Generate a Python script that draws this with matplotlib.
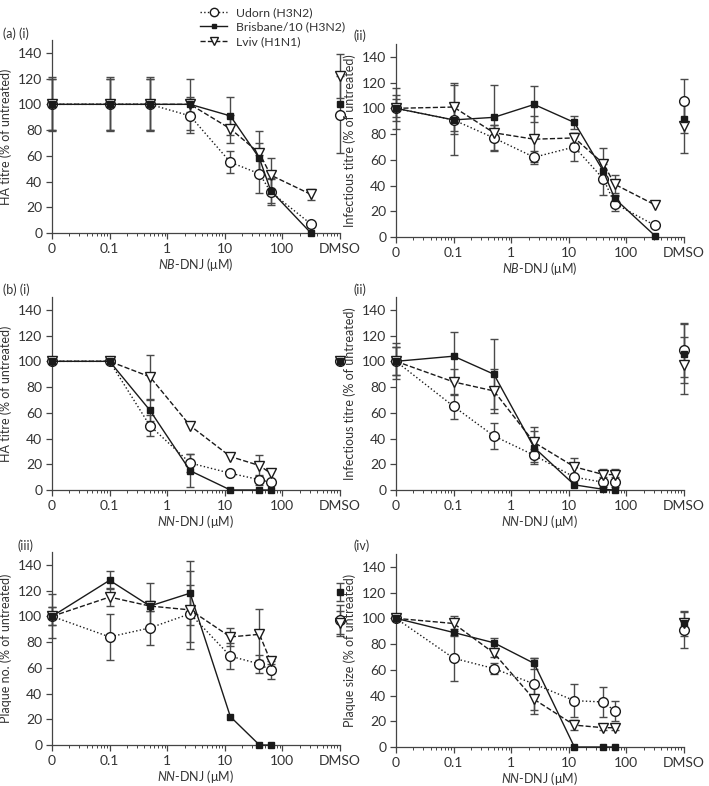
import numpy as np
import matplotlib
matplotlib.use("Agg")
import matplotlib.pyplot as plt
from matplotlib.ticker import FixedLocator, LogLocator, NullFormatter
from matplotlib.lines import Line2D

plt.rcParams['font.family'] = ['Lato', 'DejaVu Sans']
plt.rcParams['mathtext.fontset'] = 'custom'
plt.rcParams['mathtext.it'] = 'Lato:italic'
plt.rcParams['mathtext.rm'] = 'Lato'

TXT = '#333333'
LINE = '#1a1a1a'
ERR = '#4a4a4a'
FS = 10
FSL = 9.0
FSLEG = 8.8

# ---------------- data ----------------
conc_nb = [0, 0.1, 0.5, 2.5, 12.5, 40, 62.5, 312.5]
conc_nn = [0, 0.1, 0.5, 2.5, 12.5, 40, 62.5]
xtick_labels = ['0', '0.1', '1', '10', '100', 'DMSO']
strains = ['Udorn (H3N2)', 'Brisbane/10 (H3N2)', 'Lviv (H1N1)']

# (a)(i) HA titre, NB-DNJ  (last value = DMSO)
a1_udorn = [100, 100, 100, 91, 55, 46, 32, 7, 92]
a1_udorn_err = [20, 20, 20, 13, 8.5, 15, 10, 0, 30]
a1_bris = [100, 100, 100, 100, 91, 58, 33, 0, 100]
a1_bris_err = [20, 21, 21, 20, 15, 12, 10, 0, 0]
a1_lviv = [100, 100, 100, 100, 81, 62, 45, 30, 122]
a1_lviv_err = [21, 20, 20, 6, 11, 17, 13, 4, 17]

# (a)(ii) Infectious titre, NB-DNJ
a2_udorn = [100, 91, 77, 62, 70, 45, 26, 9, 106]
a2_udorn_err = [10, 11, 10, 5, 11, 12, 6, 0, 17]
a2_bris = [100, 91, 93, 103, 89, 51, 30, 1, 92]
a2_bris_err = [16, 27, 25, 14, 5, 8, 3, 0, 11]
a2_lviv = [100, 101, 81, 76, 77, 57, 41, 25, 86]
a2_lviv_err = [7, 19, 6, 18, 4, 12, 7, 0, 21]

# (b)(i) HA titre, NN-DNJ
b1_udorn = [100, 100, 50, 21, 13, 8, 6, 100]
b1_udorn_err = [0, 0, 8, 7, 0, 4, 0, 0]
b1_bris = [100, 100, 62, 15, 0, 0, 0, 100]
b1_bris_err = [0, 0, 8, 13, 0, 0, 0, 0]
b1_lviv = [100, 100, 88, 50, 26, 19, 13, 100]
b1_lviv_err = [0, 0, 17, 0, 0, 8, 0, 0]

# (b)(ii) Infectious titre, NN-DNJ
b2_udorn = [100, 65, 42, 27, 10, 6, 6, 109]
b2_udorn_err = [14, 10, 10, 5, 2, 4, 4, 21]
b2_bris = [100, 104, 90, 33, 4, 0.5, 0, 106]
b2_bris_err = [11, 19, 27, 13, 0, 0, 0, 23]
b2_lviv = [100, 84, 77, 37, 18, 12, 12, 97]
b2_lviv_err = [11, 10, 17, 12, 7, 4, 4, 22]

# (b)(iii) Plaque no., NN-DNJ
b3_udorn = [100, 84, 91, 102, 69, 63, 58, 97]
b3_udorn_err = [17, 18, 13, 22, 10, 7, 7, 12]
b3_bris = [100, 128, 108, 118, 22, 0, 0, 119]
b3_bris_err = [7, 7, 4, 25, 0, 0, 0, 7]
b3_lviv = [100, 115, 108, 105, 84, 86, 65, 95]
b3_lviv_err = [7, 7, 18, 30, 7, 20, 2, 9]

# (b)(iv) Plaque size, NN-DNJ
b4_udorn = [100, 69, 61, 49, 36, 35, 28, 91]
b4_udorn_err = [0, 18, 4, 20, 13, 12, 7.5, 14]
b4_bris = [100, 89, 81, 65, 0, 0, 0, 96]
b4_bris_err = [0, 3, 4, 4, 0, 0, 0, 10]
b4_lviv = [100, 96, 73, 37, 17, 15, 15, 96]
b4_lviv_err = [0, 6, 3, 11, 4, 2, 2, 0]

# ---------------- style ----------------
styles = [
    dict(ls=':', marker='o', ms=7, mfc='white', mec=LINE, zorder=3),
    dict(ls='-', marker='s', ms=4.5, mfc=LINE, mec=LINE, zorder=4),
    dict(ls='--', marker='v', ms=7, mfc='white', mec=LINE, zorder=3),
]

def pos(c):
    return [0.01 if v == 0 else v for v in c]

def panel(ax, conc, series, ylabel, xlabel):
    xs = pos(conc)
    for (vals, errs), st in zip(series, styles):
        n = len(conc)
        yv = np.array(vals[:n], float)
        ev = np.array(errs[:n], float)
        m = ev > 0
        ax.errorbar(np.array(xs)[m], yv[m], yerr=ev[m], fmt='none',
                    ecolor=ERR, elinewidth=1.0, capsize=3, capthick=1.0, zorder=2)
        ax.plot(xs, yv, color=LINE, lw=1.0, ls=st['ls'], marker=st['marker'],
                ms=st['ms'], mfc=st['mfc'], mec=st['mec'], mew=1.0, zorder=st['zorder'])
        # DMSO
        if errs[n] > 0:
            ax.errorbar([1000], [vals[n]], yerr=[errs[n]], fmt='none', ecolor=ERR,
                        elinewidth=1.0, capsize=3, capthick=1.0, zorder=2)
        ax.plot([1000], [vals[n]], ls='none', marker=st['marker'], ms=st['ms'],
                mfc=st['mfc'], mec=st['mec'], mew=1.0, zorder=st['zorder'])
    ax.set_xscale('log')
    ax.set_xlim(0.01, 1000)
    ax.set_ylim(0, 150)
    ax.xaxis.set_major_locator(FixedLocator([0.01, 0.1, 1, 10, 100, 1000]))
    ax.set_xticklabels(xtick_labels)
    ax.xaxis.set_minor_locator(LogLocator(base=10, subs=np.arange(2, 10), numticks=20))
    ax.xaxis.set_minor_formatter(NullFormatter())
    ax.set_yticks(range(0, 141, 20))
    for s in ['top', 'right']:
        ax.spines[s].set_visible(False)
    for s in ['left', 'bottom']:
        ax.spines[s].set_color('#444444')
        ax.spines[s].set_linewidth(0.9)
    ax.tick_params(axis='both', which='major', length=4, width=0.9, color='#444444',
                   labelsize=FS, labelcolor=TXT, pad=3)
    ax.tick_params(axis='x', which='minor', length=2, width=0.7, color='#444444')
    ax.set_ylabel(ylabel, fontsize=FSL, color=TXT, labelpad=4)
    ax.set_xlabel(xlabel, fontsize=FSL, color=TXT, labelpad=1)
    ax.patch.set_alpha(0)
    for art in ax.lines + ax.collections:
        art.set_clip_on(False)

W, H = 709, 786
fig = plt.figure(figsize=(W / 100, H / 100), dpi=100)

def add_axes(left_px, bottom_px):
    w, h = 288, 193
    return fig.add_axes([left_px / W, (H - bottom_px) / H, w / W, h / H])

nb_lab = r'$\mathit{NB}$-DNJ (μM)'
nn_lab = r'$\mathit{NN}$-DNJ (μM)'

ax1 = add_axes(52, 233)
panel(ax1, conc_nb, [(a1_udorn, a1_udorn_err), (a1_bris, a1_bris_err), (a1_lviv, a1_lviv_err)],
      'HA titre (% of untreated)', nb_lab)
ax2 = add_axes(396, 237)
panel(ax2, conc_nb, [(a2_udorn, a2_udorn_err), (a2_bris, a2_bris_err), (a2_lviv, a2_lviv_err)],
      'Infectious titre (% of untreated)', nb_lab)
ax3 = add_axes(52, 490)
panel(ax3, conc_nn, [(b1_udorn, b1_udorn_err), (b1_bris, b1_bris_err), (b1_lviv, b1_lviv_err)],
      'HA titre (% of untreated)', nn_lab)
ax4 = add_axes(396, 490)
panel(ax4, conc_nn, [(b2_udorn, b2_udorn_err), (b2_bris, b2_bris_err), (b2_lviv, b2_lviv_err)],
      'Infectious titre (% of untreated)', nn_lab)
ax5 = add_axes(52, 745)
panel(ax5, conc_nn, [(b3_udorn, b3_udorn_err), (b3_bris, b3_bris_err), (b3_lviv, b3_lviv_err)],
      'Plaque no. (% of untreated)', nn_lab)
ax6 = add_axes(396, 747)
panel(ax6, conc_nn, [(b4_udorn, b4_udorn_err), (b4_bris, b4_bris_err), (b4_lviv, b4_lviv_err)],
      'Plaque size (% of untreated)', nn_lab)

def flabel(x_px, y_px, s):
    fig.text(x_px / W, 1 - y_px / H, s, fontsize=FSL, color=TXT, ha='left', va='center')

flabel(3, 34, '(a) (i)')
flabel(353, 36, '(ii)')
flabel(3, 290, '(b) (i)')
flabel(353, 290, '(ii)')
flabel(17, 546, '(iii)')
flabel(353, 546, '(iv)')

handles = [Line2D([], [], color=LINE, lw=1.0, ls=st['ls'], marker=st['marker'], ms=st['ms'] - 1,
                  mfc=st['mfc'], mec=st['mec'], mew=1.0) for st in styles]
fig.legend(handles, strains, loc='upper left', bbox_to_anchor=(193 / W, 1.0), frameon=False,
           fontsize=FSLEG, labelcolor=TXT, handlelength=2.2, handletextpad=0.7,
           labelspacing=0.28, borderpad=0.1)

fig.savefig('out.png', dpi=100)
